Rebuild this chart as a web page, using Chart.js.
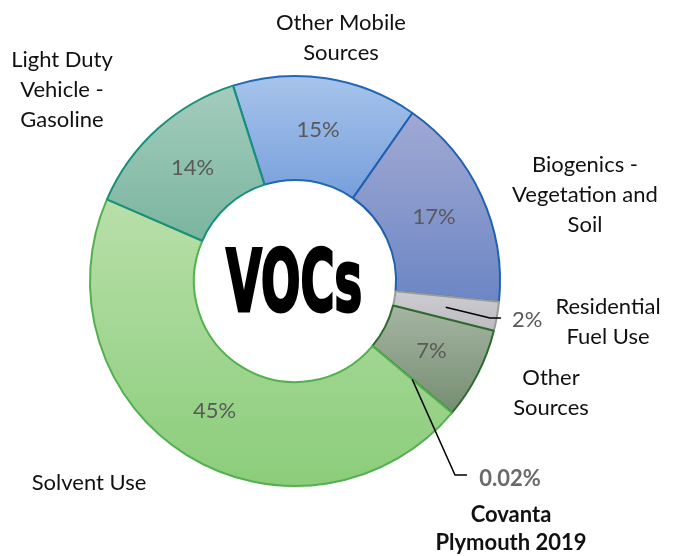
<!DOCTYPE html>
<html>
<head>
<meta charset="utf-8">
<script src="https://cdn.jsdelivr.net/npm/chart.js@4.4.1/dist/chart.umd.min.js"></script>
<style>
  html, body { margin: 0; padding: 0; background: #fff; }
</style>
</head>
<body>
<canvas id="vocChart" width="681" height="556"></canvas>
<script>
// VOC emission shares (percent)
let sources = ["Other Mobile Sources", "Biogenics - Vegetation and Soil", "Residential Fuel Use",
               "Other Sources", "Covanta Plymouth 2019", "Solvent Use", "Light Duty Vehicle - Gasoline"];
let shares = [14.6, 16.9, 2.3, 7.2, 0.02, 45.4, 13.6];
let sourceLines = [["Other Mobile", "Sources"], ["Biogenics -", "Vegetation and", "Soil"],
                   ["Residential", "Fuel Use"], ["Other", "Sources"], ["Covanta", "Plymouth 2019"],
                   ["Solvent Use"], ["Light Duty", "Vehicle -", "Gasoline"]];

// colours: flat fill, gradient top/bottom, outline
let fillColors   = ["#8fb3e3", "#8596cb", "#c6c6ca", "#8ea18a", "#4a7a4a", "#a3d794", "#8fc2b0"];
let topColors    = ["#a6c4eb", "#a1a9d3", "#cdcdd1", "#a5b5a2", "#5a8a5a", "#b8dfa9", "#a4ccbe"];
let bottomColors = ["#789fdc", "#6c86c5", "#bcbcc0", "#768d72", "#3a6a3a", "#8bcd7b", "#7ab59f"];
let borderColors = ["#2068b4", "#2060b0", "#9a9a9a", "#2c6a2c", "#2c6a2c", "#52b04e", "#16907a"];

// where the outside labels sit (centre x, first line y)
let labelSpots = [[341, 23], [585, 165], [608, 307], [551, 378], [511, 515], [89, 483], [62, 60]];
// leader lines for the small slices: elbow and end points
let leaders = {2: [[490, 318], [501, 318]], 4: [[455, 475], [467, 475]]};

const FONT = '"Lato", "Open Sans", sans-serif';

function fmtPct(v, total) {
  let p = v / total * 100;
  return p < 1 ? p.toFixed(2) + "%" : Math.round(p) + "%";
}

// vertical gradient over each slice's own height
const gradientFill = {
  id: "gradientFill",
  beforeDatasetsDraw(chart) {
    const ctx = chart.ctx;
    chart.getDatasetMeta(0).data.forEach((arc, i) => {
      const p = arc.getProps(["x", "y", "startAngle", "endAngle", "innerRadius", "outerRadius"], true);
      let minY = Infinity, maxY = -Infinity;
      for (let k = 0; k <= 40; k++) {
        const a = p.startAngle + (p.endAngle - p.startAngle) * k / 40;
        [p.innerRadius, p.outerRadius].forEach(r => {
          const y = p.y + r * Math.sin(a);
          minY = Math.min(minY, y); maxY = Math.max(maxY, y);
        });
      }
      const g = ctx.createLinearGradient(0, minY, 0, maxY + 0.01);
      g.addColorStop(0, topColors[i]);
      g.addColorStop(1, bottomColors[i]);
      arc.options.backgroundColor = g;
    });
  }
};

const sliceLabels = {
  id: "sliceLabels",
  afterDatasetsDraw(chart) {
    const ctx = chart.ctx;
    const meta = chart.getDatasetMeta(0);
    const total = shares.reduce((a, b) => a + b, 0);
    ctx.save();
    ctx.textAlign = "center";
    ctx.textBaseline = "middle";

    meta.data.forEach((arc, i) => {
      const pos = arc.tooltipPosition(true);
      const txt = fmtPct(shares[i], total);
      if (leaders[i]) {
        const [elbow, end] = leaders[i];
        ctx.strokeStyle = "#000";
        ctx.lineWidth = 1.5;
        ctx.beginPath();
        ctx.moveTo(pos.x, pos.y);
        ctx.lineTo(elbow[0], elbow[1]);
        ctx.lineTo(end[0], end[1]);
        ctx.stroke();
        if (i === 2) {
          ctx.font = "22px " + FONT;
          ctx.fillStyle = "#595959";
          ctx.textAlign = "left";
          ctx.fillText(txt, end[0] + 11, end[1] + 2);
          ctx.textAlign = "center";
        } else {
          ctx.font = "bold 22px " + FONT;
          ctx.fillStyle = "#6a6a6a";
          ctx.fillText(txt, 510, end[1] + 4);
        }
      } else {
        ctx.font = "22px " + FONT;
        ctx.fillStyle = "#595959";
        ctx.fillText(txt, pos.x, pos.y);
      }
    });

    // category names outside the ring
    sourceLines.forEach((lines, i) => {
      const [cx, cy] = labelSpots[i];
      const bold = i === 4;
      ctx.font = (bold ? "bold " : "") + "22px " + FONT;
      ctx.fillStyle = "#111";
      lines.forEach((ln, j) => ctx.fillText(ln, cx, cy + j * (bold ? 28 : 30)));
    });

    // centre title, squeezed to a heavy condensed look
    const cx = meta.data[0].x, cy = meta.data[0].y;
    ctx.font = 'bold 86px "DejaVu Sans Condensed", "DejaVu Sans", sans-serif';
    ctx.textBaseline = "alphabetic";
    const w = ctx.measureText("VOCs").width;
    ctx.translate(cx - 1, cy + 30);
    ctx.scale(136 / w, 1);
    ctx.fillStyle = "#000";
    ctx.strokeStyle = "#000";
    ctx.lineWidth = 3;
    ctx.lineJoin = "miter";
    ctx.strokeText("VOCs", 0, 0);
    ctx.fillText("VOCs", 0, 0);
    ctx.restore();
  }
};

new Chart("vocChart", {
  type: "doughnut",
  data: {
    labels: sources,
    datasets: [{
      data: shares,
      backgroundColor: fillColors,
      borderColor: borderColors,
      borderWidth: 2
    }]
  },
  options: {
    responsive: false,
    animation: false,
    rotation: -17.6,
    cutout: "49.3%",
    layout: { padding: { left: 89, right: 180, top: 75, bottom: 69 } },
    plugins: {
      legend: { display: false },
      tooltip: { enabled: false }
    }
  },
  plugins: [gradientFill, sliceLabels]
});
</script>
</body>
</html>
